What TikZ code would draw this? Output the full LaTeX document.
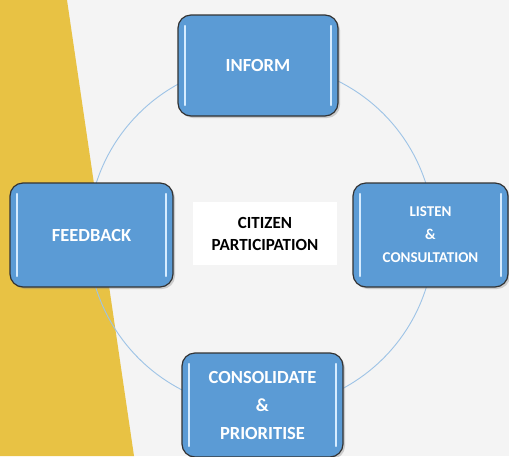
\documentclass[tikz,border=0pt]{standalone}
\usepackage{fontspec}
\setmainfont{Carlito}
\usetikzlibrary{shadows}
\definecolor{pagegray}{HTML}{F4F4F4}
\definecolor{mustard}{HTML}{E8C244}
\definecolor{stepblue}{HTML}{5B9BD5}
\definecolor{ringblue}{HTML}{9DC3E6}
\definecolor{glint}{HTML}{D6ECFF}

\begin{document}
\begin{tikzpicture}[x=1pt, y=-1pt,
    stagebox/.style={draw=black!80, line width=1.2pt, fill=stepblue, rounded corners=13pt,
        text=white, align=center, font=\bfseries\fontsize{18.5}{28}\selectfont,
        inner sep=0pt, drop shadow={shadow xshift=2pt, shadow yshift=-2pt, opacity=0.35},
        path picture={
            \draw[glint, line width=2.2pt, line cap=round]
                ([xshift=7pt,yshift=-11pt]path picture bounding box.north west) --
                ([xshift=7pt,yshift=11pt]path picture bounding box.south west);
            \draw[glint, line width=2.2pt, line cap=round]
                ([xshift=-7pt,yshift=-11pt]path picture bounding box.north east) --
                ([xshift=-7pt,yshift=11pt]path picture bounding box.south east);
        }},
    hubbox/.style={fill=white, align=center, inner sep=0pt,
        font=\bfseries\fontsize{17}{22}\selectfont}]

    % Background
    \fill[pagegray] (0,0) rectangle (509,456);
    \fill[mustard] (0,0) -- (67,0) -- (134,456) -- (0,456) -- cycle;
    \useasboundingbox (0,0) rectangle (509,456);

    % Ring
    \coordinate (hub) at (261,236);
    \draw[ringblue, line width=0.9pt] (hub) circle[radius=173];

    % Stages
    \node[stagebox, minimum width=160pt, minimum height=101pt] (inform) at (258,65.5) {INFORM};
    \node[stagebox, minimum width=155pt, minimum height=104pt,
          font=\bfseries\fontsize{15}{23}\selectfont] (listen) at (430.5,235) {LISTEN\\\&\\CONSULTATION};
    \node[stagebox, minimum width=161pt, minimum height=104pt] (consolidate) at (262.5,405) {CONSOLIDATE\\\&\\PRIORITISE};
    \node[stagebox, minimum width=163pt, minimum height=104pt] (feedback) at (91.5,235) {FEEDBACK};

    % Centre label
    \node[hubbox, minimum width=144pt, minimum height=63pt] (citizen) at (265,233.5) {CITIZEN\\PARTICIPATION};
\end{tikzpicture}
\end{document}
